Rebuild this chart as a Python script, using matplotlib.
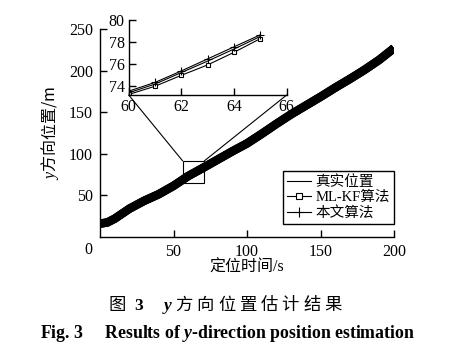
import matplotlib
matplotlib.use("Agg")
import matplotlib.pyplot as plt
from matplotlib.patches import Rectangle, ConnectionPatch
from matplotlib.lines import Line2D

plt.rcParams.update({
    'font.family': ['Liberation Serif', 'Noto Sans CJK SC'],
    'font.size': 11.5,
    'mathtext.fontset': 'custom',
    'mathtext.rm': 'Liberation Serif',
    'mathtext.it': 'Liberation Serif:italic',
    'mathtext.bf': 'Liberation Serif:bold',
    'mathtext.bfit': 'Liberation Serif:italic:bold',
    'axes.linewidth': 1.0,
})

# main view (read every 10 s; the three curves overlap into one band)
t_main = [0, 5, 10, 20, 30, 40, 50, 60, 70, 80, 90, 100,
          110, 120, 130, 140, 150, 160, 170, 180, 190, 200]
true_main = [16, 17.5, 22, 34, 43.5, 51.5, 61.5, 73.3, 83, 93, 103, 112.5,
             124, 136, 147.5, 158, 168.5, 179.5, 190, 201, 213, 227]
mlkf_main = [15.8, 17.3, 21.8, 33.8, 43.2, 51.2, 61.2, 73.0, 82.7, 92.7, 102.7, 112.2,
             123.7, 135.7, 147.2, 157.7, 168.2, 179.2, 189.7, 200.7, 212.7, 226.7]
ours_main = [16.2, 17.7, 22.2, 34.2, 43.7, 51.7, 61.7, 73.5, 83.2, 93.2, 103.2, 112.7,
             124.2, 136.2, 147.7, 158.2, 168.7, 179.7, 190.2, 201.2, 213.2, 227.2]

# zoomed view 60-65 s
t_zoom = [60, 61, 62, 63, 64, 65]
true_zoom = [73.35, 74.15, 75.2, 76.25, 77.35, 78.5]
mlkf_zoom = [73.2, 73.95, 74.95, 75.9, 77.05, 78.3]
ours_zoom = [73.5, 74.3, 75.35, 76.45, 77.55, 78.65]

labels = ['真实位置', 'ML-KF算法', '本文算法']
x_ticks = [50, 100, 150, 200]
y_ticks = [50, 100, 150, 200, 250]
zx_ticks = [60, 62, 64, 66]
zy_ticks = [74, 76, 78, 80]
zoom_box = (56.2, 64.7, 71.0, 91.5)  # x0, y0, x1, y1 of marked region

fig = plt.figure(figsize=(4.66, 3.51), dpi=100)
ax = fig.add_axes([100 / 466, 1 - 237 / 351, 294 / 466, 208 / 351])

for ys in (true_main, mlkf_main, ours_main):
    ax.plot(t_main, ys, color='black', linewidth=6, solid_capstyle='butt')

ax.set_xlim(0, 200)
ax.set_ylim(0, 250)
ax.set_xticks(x_ticks)
ax.set_yticks(y_ticks)
ax.tick_params(direction='in', length=5, width=1, pad=5)
for s in ('top', 'right'):
    ax.spines[s].set_visible(False)
ax.text(-0.041, -0.062, '0', transform=ax.transAxes, ha='center', va='center')

ax.set_xlabel('定位时间/s', labelpad=0)
ax.set_ylabel('$y$方向位置/m', family='Noto Sans CJK SC', fontsize=11.5, labelpad=6)

# marked region and inset
x0, y0, x1, y1 = zoom_box
ax.add_patch(Rectangle((x0, y0), x1 - x0, y1 - y0, fill=False,
                       edgecolor='black', linewidth=0.8, zorder=5))

axin = fig.add_axes([128.7 / 466, 1 - 95 / 351, 158 / 466, 75 / 351])
axin.plot(t_zoom, true_zoom, color='black', linewidth=0.8)
axin.plot(t_zoom, mlkf_zoom, color='black', linewidth=0.8, marker='s',
          markersize=3.5, markerfacecolor='white', markeredgewidth=0.8)
axin.plot(t_zoom, ours_zoom, color='black', linewidth=0.8, marker='+',
          markersize=6, markeredgewidth=0.8)
axin.set_xlim(60, 66)
axin.set_ylim(73.15, 80)
axin.set_xticks(zx_ticks)
axin.set_yticks(zy_ticks)
axin.tick_params(direction='in', length=5, width=1, pad=3)
for s in ('top', 'right'):
    axin.spines[s].set_visible(False)
axin.patch.set_alpha(0)

for xa, xb in ((60, x0), (66, x1)):
    con = ConnectionPatch(xyA=(xa, 73.15), coordsA=axin.transData,
                          xyB=(xb, y1), coordsB=ax.transData,
                          color='black', linewidth=0.8)
    fig.add_artist(con)

handles = [
    Line2D([], [], color='black', linewidth=0.8),
    Line2D([], [], color='black', linewidth=0.8, marker='s', markersize=4,
           markerfacecolor='white', markeredgewidth=0.8),
    Line2D([], [], color='black', linewidth=0.8, marker='+', markersize=7,
           markeredgewidth=0.8),
]
leg = ax.legend(handles, labels, loc='lower right', bbox_to_anchor=(1.0, 0.0625),
                borderaxespad=0, fancybox=False, framealpha=1, edgecolor='black',
                handlelength=1.6, handletextpad=0.3, labelspacing=0.12,
                borderpad=0.3, fontsize=10.5)
leg.get_frame().set_linewidth(1.0)

# captions
fig.text(0.485, 1 - 305 / 351, '图\u2002$\\mathbf{3}$\u3000 $\\mathbfit{y}$ 方 向 位 置 估 计 结 果',
         family='Noto Sans CJK SC', fontsize=12.5, ha='center', va='center')
fig.text(0.488, 1 - 333 / 351, 'Fig. 3\u2003 Results of $\\mathbfit{y}$-direction position estimation',
         fontweight='bold', fontsize=12.8, ha='center', va='center')

fig.savefig('out.png', dpi=100)
